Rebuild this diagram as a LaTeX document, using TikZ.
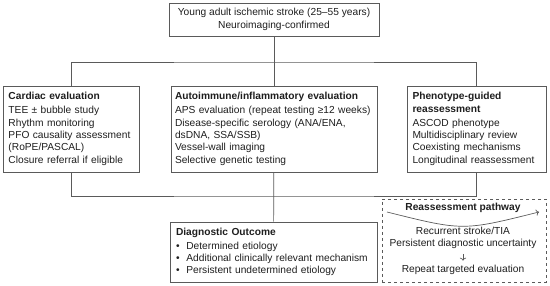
\documentclass[tikz,border=0pt]{standalone}
\usepackage{fontspec}
\setmainfont{Liberation Sans}
\usetikzlibrary{arrows.meta}
\usetikzlibrary{positioning}

\definecolor{linegray}{HTML}{5A5A5A}
\definecolor{textblack}{HTML}{1E1E1E}

\begin{document}
\begin{tikzpicture}[x=1pt,y=-1pt,
        font=\fontsize{10.2}{12.4}\selectfont,text=textblack,
        box/.style={draw=linegray,line width=0.7pt,inner sep=0pt},
        evalbox/.style={box,align=left,inner xsep=5.5pt,minimum height=86pt},
        link/.style={draw=linegray,line width=0.7pt}]
        \useasboundingbox (0,0) rectangle (550,286);
        % start of the pathway
        \node[box,align=center,minimum width=210pt,minimum height=33pt] (top) at (274,19.5)
            {Young adult ischemic stroke (25--55 years)\\Neuroimaging-confirmed};
        % three evaluation branches
        \node[evalbox,text width=125pt] (card) at (71,129)
            {\textbf{Cardiac evaluation}\\[1.5pt]
             TEE ± bubble study\\
             Rhythm monitoring\\
             PFO causality assessment\\
             (RoPE/PASCAL)\\
             Closure referral if eligible};
        \node[evalbox,inner xsep=4pt,text width=198pt] (auto) at (274,129)
            {\textbf{Autoimmune/inflammatory evaluation}\\[1.5pt]
             APS evaluation (repeat testing ≥12 weeks)\\
             Disease-specific serology (ANA/ENA,\\
             dsDNA, SSA/SSB)\\
             Vessel-wall imaging\\
             Selective genetic testing};
        \node[evalbox,text width=128pt] (pheno) at (476.5,129)
            {\textbf{Phenotype-guided}\\
             \textbf{reassessment}\\[1.5pt]
             ASCOD phenotype\\
             Multidisciplinary review\\
             Coexisting mechanisms\\
             Longitudinal reassessment};
        % outcome and the loop back
        \node[box,align=left,inner xsep=6pt,text width=195pt,minimum height=60pt] (outc) at (273.5,252)
            {\textbf{Diagnostic Outcome}\\[1.5pt]
             \textbullet\ \ Determined etiology\\
             \textbullet\ \ Additional clinically relevant mechanism\\
             \textbullet\ \ Persistent undetermined etiology};
        \node[box,dashed,minimum width=164pt,minimum height=83pt] (reas) at (464,240.5) {};
        \node (rtitle) at (463,208) {\textbf{Reassessment pathway}};
        \node (rec) at (463,231) {Recurrent stroke/TIA};
        \node (unc) at (463,243.5) {Persistent diagnostic uncertainty};
        \node (rep) at (463,270) {Repeat targeted evaluation};
        \coordinate (ra) at (387,212);
        \coordinate (rb) at (539,212);
        % connectors
        \coordinate (j1) at (274,62);
        \coordinate (j2) at (274,196);
        \draw[link] (top) -- (auto);
        \draw[link] (card.north) |- (j1) -| (pheno.north);
        \draw[link] (auto) -- (outc);
        \draw[link] (card.south) |- (j2) -| (pheno.south);
        \draw[link,-{To[length=3pt]}] (ra) .. controls (463,231) .. (rb);
        \draw[link,-{To[length=3pt]},shorten <=2pt,shorten >=1pt] (unc.south) -- (rep.north);
    \end{tikzpicture}
\end{document}
